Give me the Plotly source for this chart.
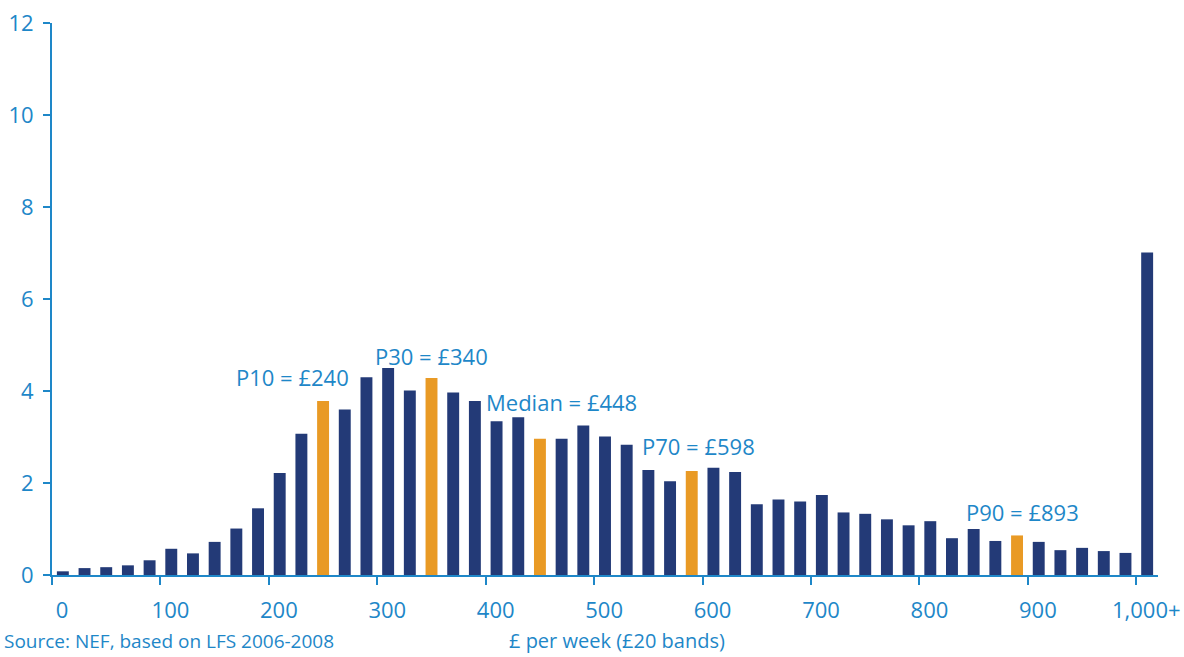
import plotly.graph_objects as go

# Data
band_starts = list(range(0, 1000, 20)) + ["1,000+"]
shares = [0.08, 0.15, 0.17, 0.21, 0.32, 0.57, 0.47, 0.72, 1.01, 1.45,
          2.22, 3.07, 3.78, 3.60, 4.30, 4.50, 4.01, 4.28, 3.97, 3.78,
          3.34, 3.43, 2.96, 2.96, 3.25, 3.01, 2.83, 2.28, 2.04, 2.26,
          2.33, 2.24, 1.54, 1.64, 1.60, 1.74, 1.36, 1.33, 1.21, 1.08,
          1.17, 0.80, 1.00, 0.74, 0.86, 0.72, 0.54, 0.59, 0.52, 0.48,
          7.01]
highlight_bands = [240, 340, 440, 580, 880]
tick_labels = ["0", "100", "200", "300", "400", "500", "600", "700", "800", "900", "1,000+"]
y_ticks = [0, 2, 4, 6, 8, 10, 12]

# annotations: text, x position (band index), y value, anchor
labels = [
    ("P10 = £240", 13.3, 4.30, "right"),
    ("P30 = £340", 14.3, 4.76, "left"),
    ("Median = £448", 19.4, 3.76, "left"),
    ("P70 = £598", 26.6, 2.80, "left"),
    ("P90 = £893", 41.55, 1.37, "left"),
]

NAVY = "#233A77"
ORANGE = "#E99A25"
BLUE = "#1E87C8"
FONT = "Open Sans"
FS = 22

positions = list(range(len(band_starts)))
colors = [ORANGE if b in highlight_bands else NAVY for b in band_starts]

fig = go.Figure()
fig.add_trace(go.Bar(x=positions, y=shares, marker=dict(color=colors, line=dict(width=0)),
                     width=0.55, hoverinfo="skip"))

tick_positions = [i * 5 - 0.5 for i in range(len(tick_labels))]

fig.update_layout(
    width=1184, height=657,
    margin=dict(l=52, r=26, t=23, b=82),
    plot_bgcolor="white", paper_bgcolor="white",
    showlegend=False,
    font=dict(family=FONT, size=FS, color=BLUE),
    xaxis=dict(range=[-0.5, 50.5], tickvals=tick_positions, ticktext=tick_labels,
               ticks="outside", ticklen=8, tickwidth=2, tickcolor=BLUE,
               ticklabelshift=10, ticklabelstandoff=7, automargin=False,
               ticklabeloverflow="allow",
               showline=True, linecolor=BLUE, linewidth=2,
               showgrid=False, zeroline=False,
               tickfont=dict(family=FONT, size=FS, color=BLUE)),
    yaxis=dict(range=[0, 12], tickvals=y_ticks,
               ticks="outside", ticklen=7, tickwidth=2, tickcolor=BLUE,
               ticklabelstandoff=5, automargin=False,
               ticklabeloverflow="allow",
               showline=True, linecolor=BLUE, linewidth=2,
               showgrid=False, zeroline=False,
               tickfont=dict(family=FONT, size=FS, color=BLUE)),
)

for text, xpos, ypos, anchor in labels:
    fig.add_annotation(x=xpos, y=ypos, xref="x", yref="y", text=text, showarrow=False,
                       xanchor=anchor, yanchor="middle",
                       font=dict(family=FONT, size=22, color=BLUE))

fig.add_annotation(x=0.511, y=-0.146, xref="paper", yref="paper", text="£ per week (£20 bands)",
                   showarrow=False, xanchor="center", yanchor="bottom",
                   font=dict(family=FONT, size=20, color=BLUE))
fig.add_annotation(x=-0.045, y=-0.146, xref="paper", yref="paper",
                   text="Source: NEF, based on LFS 2006-2008",
                   showarrow=False, xanchor="left", yanchor="bottom",
                   font=dict(family=FONT, size=19, color=BLUE))

fig.write_html("out.html", config={"displayModeBar": False},
               post_script="document.body.style.margin='0px';")
